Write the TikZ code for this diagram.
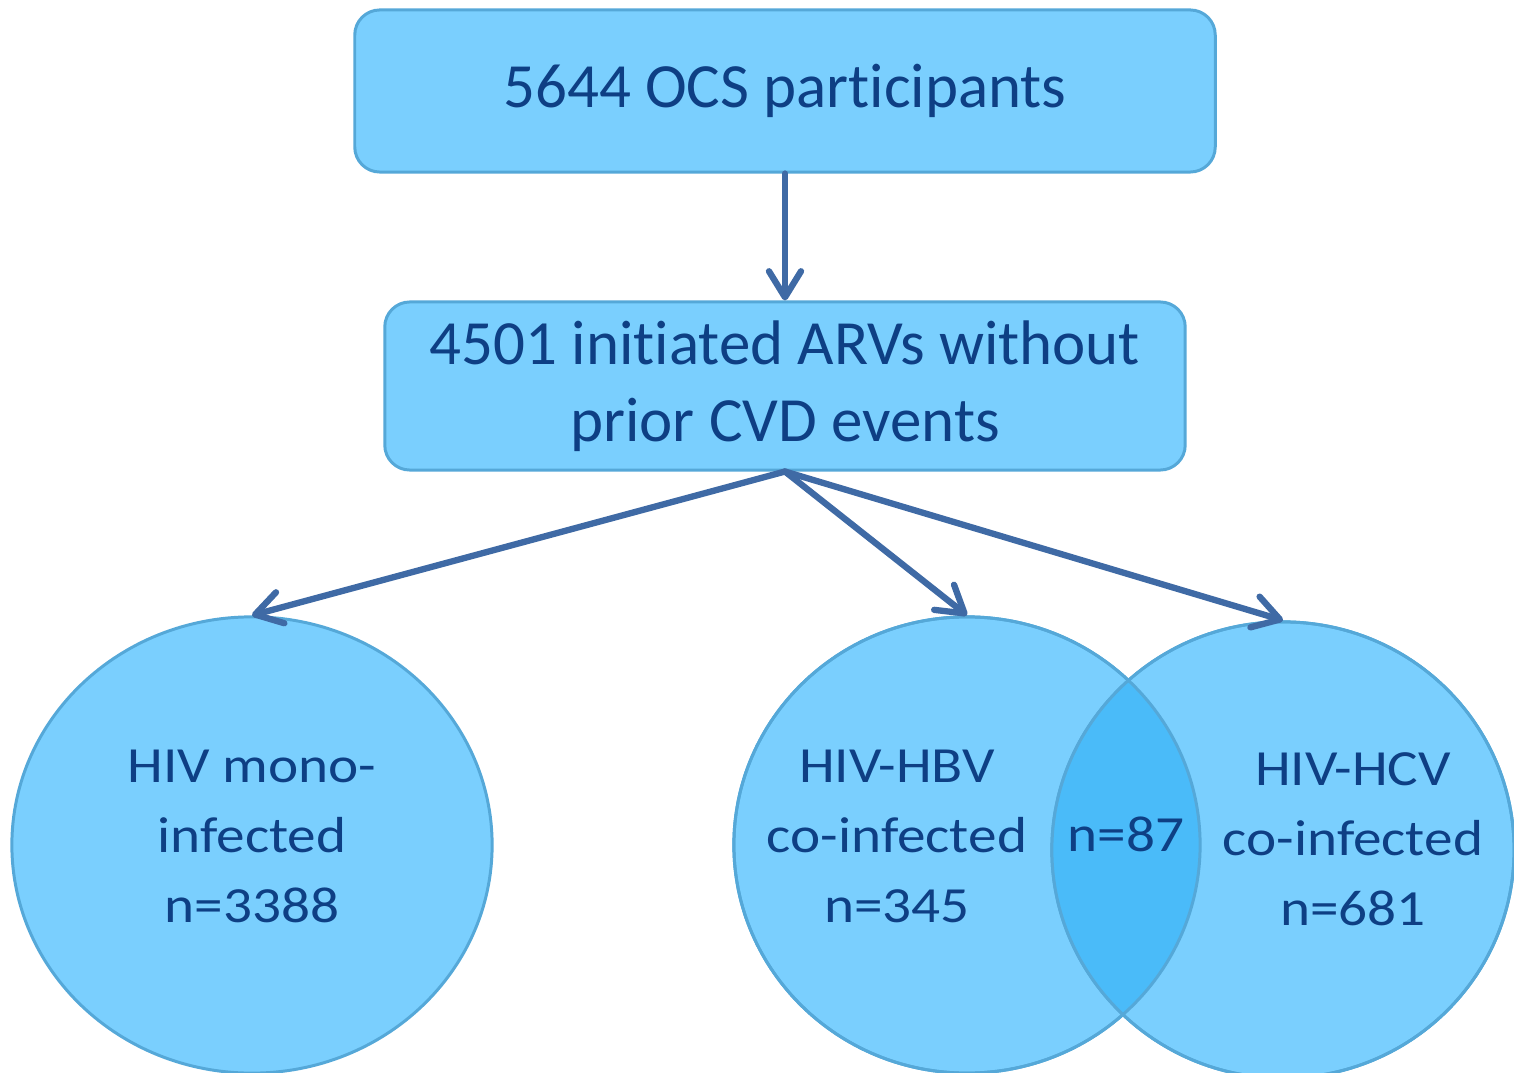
\documentclass[tikz,border=0pt]{standalone}
\usepackage{fontspec}
\setmainfont{Carlito}[RawFeature=-liga, RawFeature=-clig, RawFeature=-calt, RawFeature=-dlig, RawFeature=-rlig, RawFeature=-ccmp]
\newfontfamily\vennfont[FakeStretch=1.13, RawFeature=-liga, RawFeature=-clig, RawFeature=-calt, RawFeature=-rlig, RawFeature=-ccmp]{Carlito}
\usetikzlibrary{arrows.meta}
\usetikzlibrary{positioning}
\usetikzlibrary{shapes.geometric}
\definecolor{boxfill}{HTML}{7ACFFE}
\definecolor{boxline}{HTML}{55A8D8}
\definecolor{lensfill}{HTML}{4ABBF9}
\definecolor{textblue}{HTML}{0E3F84}
\definecolor{arrowblue}{HTML}{3F6AA5}
\tikzset{
    box/.style={draw=boxline, fill=boxfill, line width=0.85pt, rounded corners=0.25cm,
    inner sep=0pt, align=center, text=textblue, font=\fontsize{17.9}{21.8}\selectfont},
    group/.style={ellipse, draw=boxline, fill=boxfill, line width=0.85pt, inner sep=0pt},
    rim/.style={draw=boxline, line width=0.85pt},
    count/.style={align=center, text=textblue, font=\vennfont\fontsize{14.4}{19.9}\selectfont},
    dedge/.style = {-{Straight Barb[length=2.6mm,width=3.2mm,round]}, line width=1.8pt,
    draw=arrowblue, line cap=round}
}

\begin{document}
\begin{tikzpicture}[x=0.01cm, y=-0.01cm]
\useasboundingbox (0,0) rectangle (1514,1073);

% boxes
\node[box, minimum width=8.6cm, minimum height=1.62cm] (total) at (785,91) {5644 OCS participants};
\node[box, minimum width=8.0cm, minimum height=1.68cm] (arv) at (785,386) {4501 initiated ARVs without\\prior CVD events};

% groups
\node[group, minimum width=4.80cm, minimum height=4.56cm] (mono) at (252,845) {};
\node[group, minimum width=4.66cm, minimum height=4.56cm] (hbv) at (967,845) {};
\node[group, minimum width=4.62cm, minimum height=4.56cm] (hcv) at (1283,850) {};

% overlap
\begin{scope}
\clip (hbv.center) ellipse [x radius=2.33cm, y radius=2.28cm];
\fill[lensfill] (hcv.center) ellipse [x radius=2.31cm, y radius=2.28cm];
\end{scope}
\draw[rim] (hbv.center) ellipse [x radius=2.33cm, y radius=2.28cm];
\draw[rim] (hcv.center) ellipse [x radius=2.31cm, y radius=2.28cm];

\node[count] (monotext) at (252,836) {HIV mono-\\infected\\n=3388};
\node[count] (hbvtext) at (897,836) {HIV-HBV\\co-infected\\n=345};
\node[count] (hcvtext) at (1353,839) {HIV-HCV\\co-infected\\n=681};
\node[count] (both) at (1126,834) {n=87};

% arrows
\draw[dedge] (total) -- (arv);
\draw[dedge] (arv.south) -- (mono.north);
\draw[dedge] (arv.south) -- (hbv.north);
\draw[dedge] (arv.south) -- (hcv.north);
\end{tikzpicture}
\end{document}
